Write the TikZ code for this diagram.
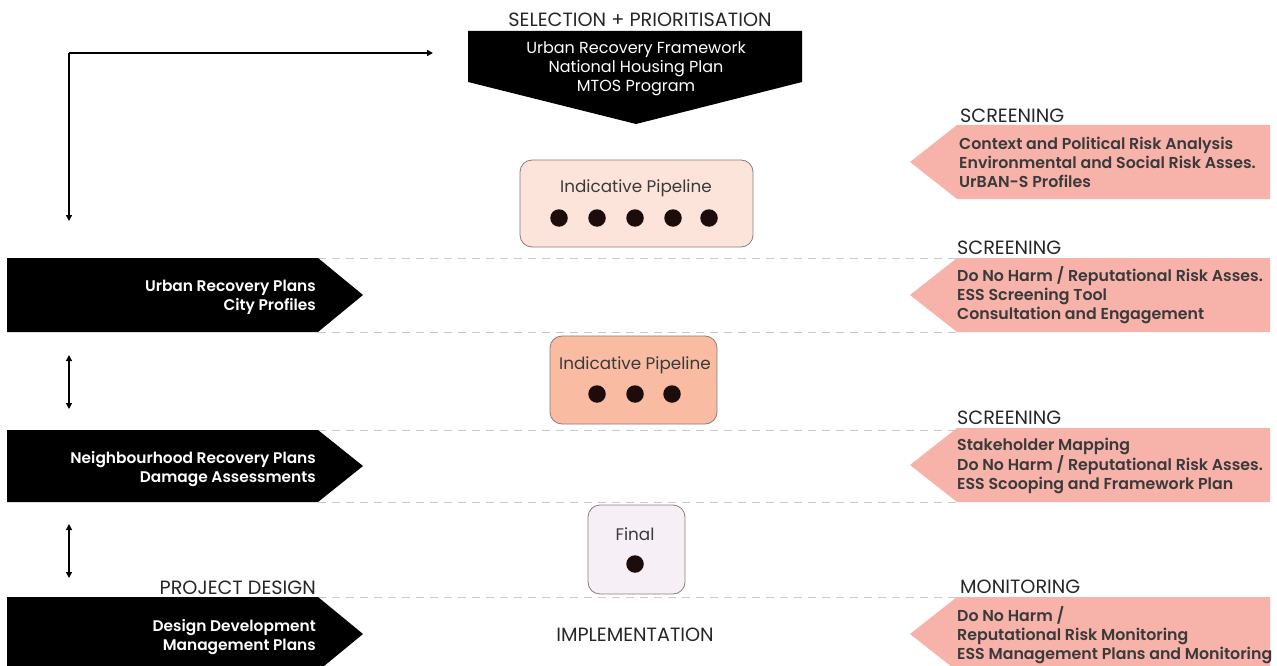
\documentclass[tikz,border=0pt]{standalone}
\usepackage{fontspec}
\setmainfont{Poppins}[BoldFont={Poppins SemiBold}]
\usetikzlibrary{arrows.meta}
\definecolor{pinkbar}{HTML}{F7B2AA}
\definecolor{pipeA}{HTML}{FCE4DA}
\definecolor{pipeB}{HTML}{F9BCA2}
\definecolor{pipeC}{HTML}{F6F0F6}
\definecolor{boxline}{HTML}{8C7C7A}
\definecolor{dotcol}{HTML}{1C0C0C}
\definecolor{txtgray}{HTML}{3A3A3A}
\definecolor{dashgray}{HTML}{C8C8C8}
\tikzset{
  stage/.style={font=\fontsize{19.2}{19}\selectfont, text=black!85, inner sep=0pt},
  piptxt/.style={font=\fontsize{16.8}{19}\selectfont, text=txtgray, inner sep=0pt},
  blacktxt/.style={font=\fontsize{15.4}{19}\selectfont\bfseries, text=white, align=right, anchor=east, inner sep=0pt},
  pinktxt/.style={font=\fontsize{15.8}{19}\selectfont\bfseries, text=txtgray, align=left, anchor=west, inner sep=0pt},
  pipe/.style={draw=boxline, rounded corners=12pt, line width=0.8pt},
  dot/.style={circle, fill=dotcol, minimum size=17.5pt, inner sep=0pt},
  sep/.style={dashgray, dash pattern=on 8pt off 6pt, line width=0.8pt},
  flow/.style={line width=1.6pt, -{Triangle[length=6pt,width=6pt]}}
}
\begin{document}
\begin{tikzpicture}[x=1pt,y=-1pt]
\useasboundingbox (0,0) rectangle (1277,666);
\clip (0,0) rectangle (1277,666);

% separators
\foreach \yy in {258,332,430,502,597}
  \draw[sep] (318,\yy) -- (957,\yy);

% top
\node[stage] (T_sel) at (640,20) {SELECTION + PRIORITISATION};
\fill (468,31) -- (802,31) -- (802,82) -- (636,124) -- (468,82) -- cycle;
\node[font=\fontsize{16}{19}\selectfont, text=white, align=center, inner sep=0pt] (T_fw) at (636,68.5)
  {Urban Recovery Framework\\National Housing Plan\\MTOS Program};

\coordinate (A_top) at (69,53);
\coordinate (A_end) at (433,53);
\coordinate (A_low) at (69,221);
\draw[flow] (A_top) -- (A_end);
\draw[flow] (A_top) -- (A_low);

% pipelines
\node[pipe, fill=pipeA, minimum width=233pt, minimum height=87pt] (P_1) at (636.5,203.5) {};
\node[piptxt] (P_1_t) at (636,188) {Indicative Pipeline};
\foreach \xx/\i in {559/1,597/2,635/3,673/4,709/5}
  \node[dot] (P_1_\i) at (\xx,218) {};

\node[pipe, fill=pipeB, minimum width=167pt, minimum height=88pt] (P_2) at (633.5,380) {};
\node[piptxt] (P_2_t) at (635,365) {Indicative Pipeline};
\foreach \xx/\i in {597/1,635/2,672/3}
  \node[dot] (P_2_\i) at (\xx,394) {};

\node[pipe, fill=pipeC, minimum width=97pt, minimum height=89pt] (P_3) at (636.5,549.5) {};
\node[piptxt] (P_3_t) at (635,534) {Final};
\node[dot] (P_3_1) at (635,564) {};

% left side
\fill (7,258) -- (318,258) -- (363,295) -- (318,332) -- (7,332) -- cycle;
\node[blacktxt] (L_1) at (316,297) {Urban Recovery Plans\\City Profiles};
\coordinate (B_1a) at (69,355);
\coordinate (B_1b) at (69,409);
\draw[flow, {Triangle[length=6pt,width=6pt]}-{Triangle[length=6pt,width=6pt]}, line width=1.2pt] (B_1a) -- (B_1b);

\fill (7,430) -- (318,430) -- (363,466) -- (318,502) -- (7,502) -- cycle;
\node[blacktxt] (L_2) at (316,469.5) {Neighbourhood Recovery Plans\\Damage Assessments};
\coordinate (B_2a) at (69,524);
\coordinate (B_2b) at (69,578);
\draw[flow, {Triangle[length=6pt,width=6pt]}-{Triangle[length=6pt,width=6pt]}, line width=1.2pt] (B_2a) -- (B_2b);

\node[stage, anchor=east] (L_pd) at (316,588) {PROJECT DESIGN};
\fill (7,597) -- (318,597) -- (363,634) -- (318,671) -- (7,671) -- cycle;
\node[blacktxt] (L_3) at (316,637.5) {Design Development\\Management Plans};
\node[stage] (L_impl) at (635,635) {IMPLEMENTATION};

% right side
\foreach \ya/\yb/\ym in {125/199/162,258/332/295,428/502/465,597/671/634}
  \fill[pinkbar] (910,\ym) -- (957,\ya) -- (1270,\ya) -- (1270,\yb) -- (957,\yb) -- cycle;
\node[stage, anchor=west] (R_1h) at (960,116) {SCREENING};
\node[pinktxt] (R_1) at (959,162) {Context and Political Risk Analysis\\Environmental and Social Risk Asses.\\UrBAN-S Profiles};
\node[stage, anchor=west] (R_2h) at (957,248) {SCREENING};
\node[pinktxt] (R_2) at (957,295) {Do No Harm / Reputational Risk Asses.\\ESS Screening Tool\\Consultation and Engagement};
\node[stage, anchor=west] (R_3h) at (957,418) {SCREENING};
\node[pinktxt] (R_3) at (957,466) {Stakeholder Mapping\\Do No Harm / Reputational Risk Asses.\\ESS Scooping and Framework Plan};
\node[stage, anchor=west] (R_4h) at (960,587) {MONITORING};
\node[pinktxt] (R_4) at (957,635) {Do No Harm /\\Reputational Risk Monitoring\\ESS Management Plans and Monitoring};
\end{tikzpicture}
\end{document}
